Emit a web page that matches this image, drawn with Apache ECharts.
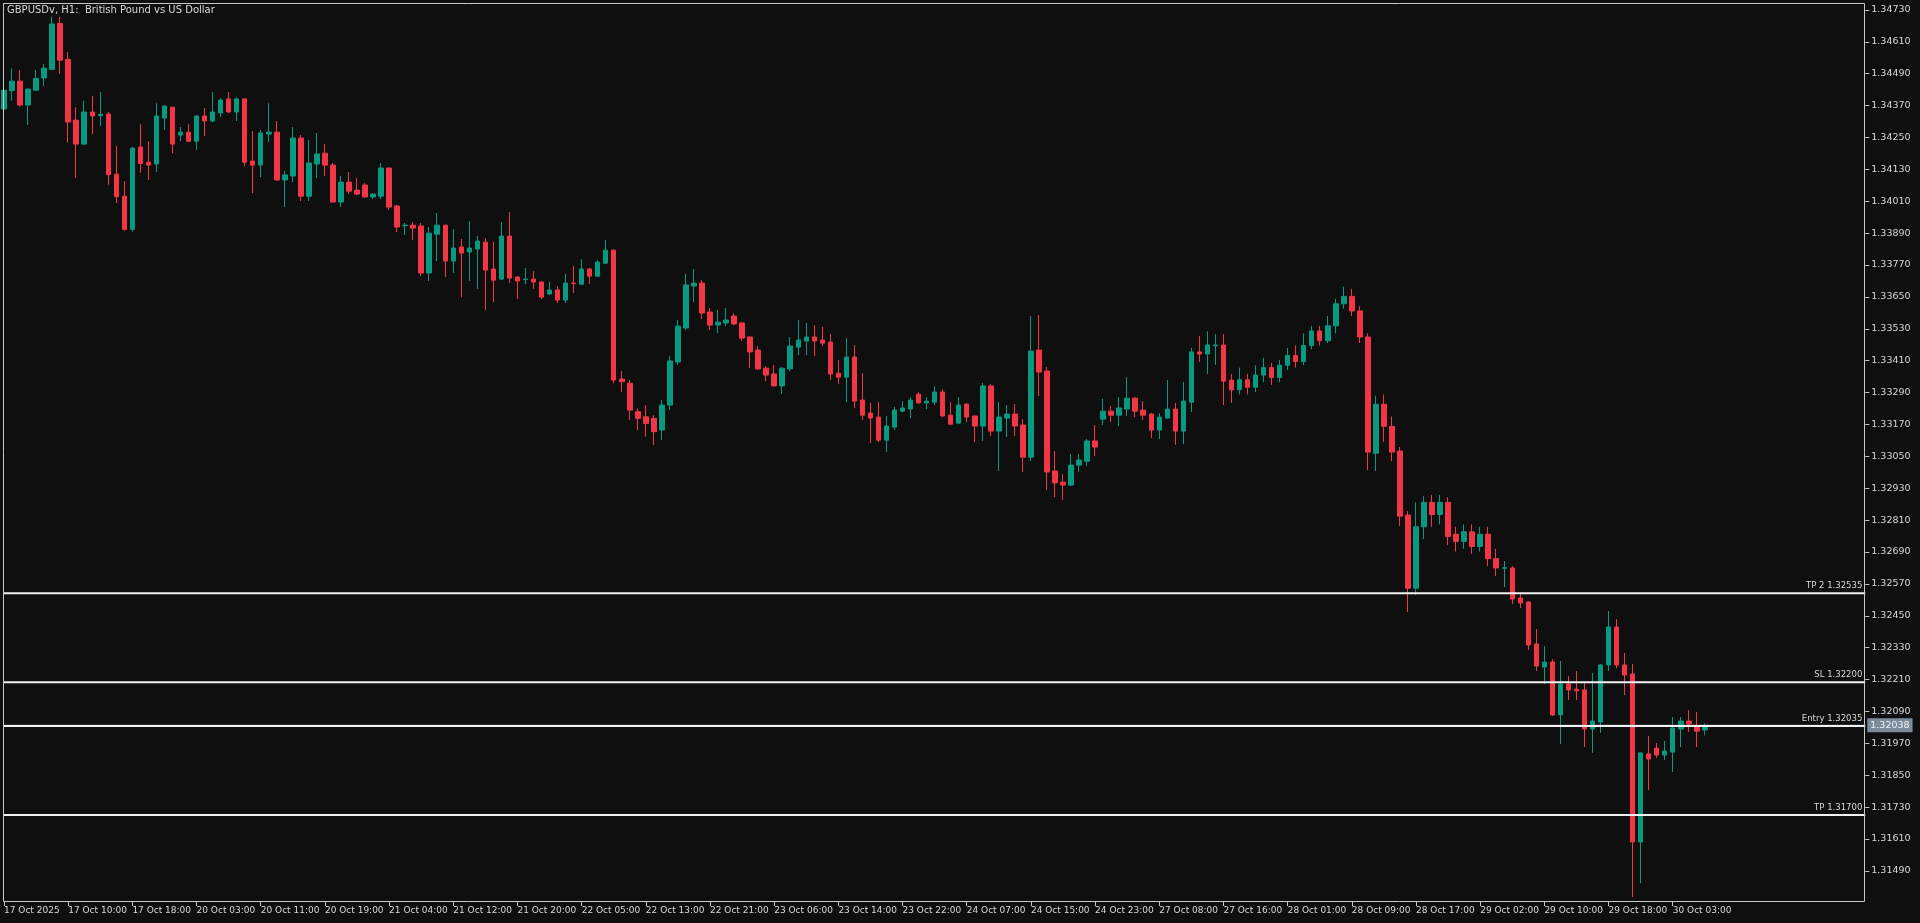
<!DOCTYPE html>
<html>
<head>
<meta charset="utf-8">
<title>GBPUSDv H1</title>
<script src="https://cdn.jsdelivr.net/npm/echarts@6/dist/echarts.min.js"></script>
<style>
  html, body { margin: 0; padding: 0; background: #0f0f0f; }
  #chart { width: 1920px; height: 923px; }
</style>
</head>
<body>
<div id="chart"></div>
<script>
// candles: [open, close, low, high], H1 bars from 17 Oct 2025
var ohlc = [
  [1.34357,1.34428,1.34353,1.34435],[1.34426,1.34462,1.34388,1.34510],[1.34462,1.34372,1.34366,1.34504],[1.34372,1.34432,1.34297,1.34435],
  [1.34428,1.34472,1.34425,1.34504],[1.34474,1.34511,1.34443,1.34526],[1.34506,1.34677,1.34504,1.34704],[1.34679,1.34541,1.34489,1.34704],
  [1.34544,1.34308,1.34230,1.34571],[1.34315,1.34225,1.34097,1.34364],[1.34225,1.34346,1.34221,1.34388],[1.34346,1.34331,1.34263,1.34406],
  [1.34332,1.34337,1.34293,1.34421],[1.34338,1.34110,1.34072,1.34346],[1.34112,1.34027,1.34003,1.34218],[1.34029,1.33904,1.33899,1.34086],
  [1.33904,1.34210,1.33895,1.34215],[1.34214,1.34152,1.34117,1.34300],[1.34157,1.34146,1.34090,1.34236],[1.34150,1.34331,1.34120,1.34379],
  [1.34323,1.34368,1.34278,1.34370],[1.34364,1.34225,1.34191,1.34366],[1.34259,1.34270,1.34236,1.34289],[1.34270,1.34236,1.34233,1.34300],
  [1.34236,1.34331,1.34203,1.34334],[1.34331,1.34312,1.34255,1.34361],[1.34312,1.34346,1.34308,1.34421],[1.34342,1.34391,1.34327,1.34398],
  [1.34395,1.34346,1.34342,1.34421],[1.34346,1.34395,1.34312,1.34401],[1.34395,1.34157,1.34142,1.34398],[1.34161,1.34146,1.34041,1.34274],
  [1.34146,1.34267,1.34101,1.34278],[1.34263,1.34270,1.34233,1.34379],[1.34270,1.34090,1.34086,1.34312],[1.34090,1.34109,1.33988,1.34124],
  [1.34105,1.34248,1.34082,1.34289],[1.34248,1.34029,1.34011,1.34259],[1.34029,1.34154,1.34011,1.34240],[1.34150,1.34188,1.34097,1.34267],
  [1.34191,1.34146,1.34105,1.34225],[1.34146,1.34007,1.34005,1.34154],[1.34007,1.34082,1.33988,1.34105],[1.34082,1.34048,1.34037,1.34120],
  [1.34052,1.34037,1.34033,1.34097],[1.34071,1.34026,1.34024,1.34078],[1.34026,1.34037,1.34018,1.34041],[1.34029,1.34135,1.34018,1.34154],
  [1.34135,1.33988,1.33977,1.34137],[1.33992,1.33913,1.33894,1.33996],[1.33918,1.33920,1.33883,1.33928],[1.33920,1.33909,1.33864,1.33932],
  [1.33917,1.33740,1.33728,1.33928],[1.33740,1.33890,1.33710,1.33913],[1.33886,1.33920,1.33785,1.33966],[1.33920,1.33785,1.33725,1.33922],
  [1.33785,1.33834,1.33740,1.33905],[1.33838,1.33815,1.33649,1.33868],[1.33819,1.33834,1.33710,1.33935],[1.33830,1.33860,1.33680,1.33879],
  [1.33856,1.33751,1.33601,1.33871],[1.33755,1.33713,1.33631,1.33856],[1.33717,1.33879,1.33713,1.33932],[1.33879,1.33721,1.33702,1.33969],
  [1.33725,1.33710,1.33642,1.33727],[1.33715,1.33717,1.33698,1.33759],[1.33717,1.33706,1.33680,1.33747],[1.33706,1.33649,1.33642,1.33710],
  [1.33661,1.33676,1.33657,1.33706],[1.33676,1.33638,1.33627,1.33691],[1.33638,1.33702,1.33627,1.33736],[1.33702,1.33700,1.33665,1.33766],
  [1.33698,1.33755,1.33696,1.33792],[1.33755,1.33728,1.33698,1.33759],[1.33728,1.33781,1.33726,1.33789],[1.33777,1.33826,1.33775,1.33864],
  [1.33826,1.33337,1.33325,1.33829],[1.33341,1.33331,1.33293,1.33371],[1.33325,1.33224,1.33187,1.33337],[1.33218,1.33193,1.33149,1.33230],
  [1.33199,1.33174,1.33124,1.33243],[1.33193,1.33143,1.33093,1.33205],[1.33149,1.33243,1.33111,1.33262],[1.33243,1.33409,1.33224,1.33427],
  [1.33405,1.33540,1.33394,1.33563],[1.33533,1.33695,1.33525,1.33736],[1.33691,1.33702,1.33631,1.33755],[1.33702,1.33589,1.33567,1.33713],
  [1.33593,1.33544,1.33525,1.33608],[1.33544,1.33555,1.33514,1.33601],[1.33552,1.33563,1.33540,1.33608],[1.33578,1.33548,1.33544,1.33589],
  [1.33552,1.33495,1.33484,1.33555],[1.33499,1.33443,1.33382,1.33501],[1.33450,1.33379,1.33375,1.33465],[1.33382,1.33356,1.33333,1.33390],
  [1.33360,1.33315,1.33313,1.33394],[1.33315,1.33382,1.33284,1.33386],[1.33379,1.33465,1.33371,1.33499],[1.33461,1.33488,1.33431,1.33563],
  [1.33484,1.33499,1.33431,1.33552],[1.33499,1.33484,1.33427,1.33544],[1.33488,1.33476,1.33465,1.33537],[1.33480,1.33360,1.33337,1.33510],
  [1.33363,1.33348,1.33322,1.33412],[1.33348,1.33424,1.33254,1.33495],[1.33424,1.33258,1.33232,1.33469],[1.33262,1.33205,1.33187,1.33363],
  [1.33213,1.33194,1.33100,1.33251],[1.33198,1.33111,1.33104,1.33254],[1.33111,1.33164,1.33066,1.33202],[1.33160,1.33224,1.33149,1.33236],
  [1.33220,1.33232,1.33217,1.33258],[1.33228,1.33262,1.33193,1.33273],[1.33284,1.33251,1.33249,1.33292],[1.33251,1.33258,1.33228,1.33273],
  [1.33254,1.33292,1.33243,1.33315],[1.33292,1.33202,1.33198,1.33303],[1.33205,1.33171,1.33168,1.33254],[1.33175,1.33243,1.33173,1.33273],
  [1.33247,1.33198,1.33179,1.33249],[1.33202,1.33164,1.33104,1.33204],[1.33164,1.33315,1.33108,1.33326],[1.33315,1.33145,1.33126,1.33322],
  [1.33145,1.33198,1.32995,1.33254],[1.33194,1.33209,1.33123,1.33243],[1.33209,1.33164,1.33126,1.33247],[1.33168,1.33047,1.32991,1.33190],
  [1.33047,1.33446,1.33032,1.33578],[1.33450,1.33367,1.33277,1.33582],[1.33371,1.32991,1.32923,1.33386],[1.32995,1.32950,1.32897,1.33070],
  [1.32953,1.32942,1.32886,1.32983],[1.32942,1.33017,1.32938,1.33059],[1.33017,1.33036,1.32991,1.33059],[1.33032,1.33108,1.33014,1.33115],
  [1.33108,1.33085,1.33051,1.33168],[1.33190,1.33220,1.33168,1.33266],[1.33220,1.33205,1.33179,1.33239],[1.33205,1.33232,1.33164,1.33273],
  [1.33228,1.33269,1.33202,1.33348],[1.33269,1.33220,1.33198,1.33273],[1.33224,1.33205,1.33187,1.33258],[1.33209,1.33149,1.33119,1.33213],
  [1.33149,1.33198,1.33115,1.33213],[1.33194,1.33228,1.33192,1.33337],[1.33228,1.33145,1.33093,1.33251],[1.33145,1.33258,1.33096,1.33330],
  [1.33254,1.33443,1.33217,1.33458],[1.33443,1.33435,1.33405,1.33503],[1.33435,1.33469,1.33360,1.33521],[1.33466,1.33469,1.33394,1.33510],
  [1.33469,1.33333,1.33243,1.33510],[1.33337,1.33300,1.33251,1.33360],[1.33301,1.33338,1.33283,1.33384],[1.33338,1.33310,1.33283,1.33361],
  [1.33310,1.33356,1.33292,1.33393],[1.33356,1.33384,1.33329,1.33421],[1.33384,1.33347,1.33319,1.33402],[1.33347,1.33393,1.33329,1.33412],
  [1.33393,1.33430,1.33375,1.33458],[1.33430,1.33407,1.33384,1.33467],[1.33407,1.33467,1.33393,1.33513],[1.33467,1.33522,1.33453,1.33541],
  [1.33522,1.33485,1.33467,1.33541],[1.33485,1.33541,1.33476,1.33578],[1.33541,1.33624,1.33513,1.33643],[1.33624,1.33652,1.33606,1.33689],
  [1.33652,1.33597,1.33578,1.33680],[1.33597,1.33499,1.33476,1.33615],[1.33499,1.33066,1.32998,1.33513],[1.33062,1.33246,1.32995,1.33278],
  [1.33246,1.33163,1.33104,1.33283],[1.33163,1.33066,1.33032,1.33200],[1.33070,1.32825,1.32788,1.33085],[1.32829,1.32554,1.32464,1.32844],
  [1.32554,1.32785,1.32528,1.32877],[1.32785,1.32877,1.32739,1.32900],[1.32877,1.32831,1.32785,1.32905],[1.32831,1.32877,1.32794,1.32905],
  [1.32877,1.32748,1.32716,1.32896],[1.32757,1.32730,1.32692,1.32785],[1.32730,1.32766,1.32702,1.32794],[1.32766,1.32711,1.32683,1.32794],
  [1.32711,1.32757,1.32692,1.32785],[1.32757,1.32665,1.32637,1.32785],[1.32665,1.32630,1.32600,1.32702],[1.32629,1.32631,1.32558,1.32656],
  [1.32630,1.32513,1.32494,1.32637],[1.32517,1.32498,1.32479,1.32532],[1.32502,1.32340,1.32321,1.32505],[1.32344,1.32261,1.32242,1.32400],
  [1.32257,1.32276,1.32193,1.32336],[1.32276,1.32077,1.32073,1.32287],[1.32077,1.32193,1.31967,1.32280],[1.32193,1.32171,1.32133,1.32223],
  [1.32174,1.32168,1.32133,1.32242],[1.32171,1.32024,1.31956,1.32197],[1.32024,1.32054,1.31934,1.32235],[1.32050,1.32265,1.32009,1.32268],
  [1.32265,1.32408,1.32242,1.32468],[1.32408,1.32265,1.32253,1.32438],[1.32265,1.32227,1.32152,1.32310],[1.32231,1.31599,1.31392,1.32268],
  [1.31599,1.31934,1.31444,1.31936],[1.31930,1.31911,1.31794,1.31998],[1.31952,1.31926,1.31915,1.31971],[1.31926,1.31941,1.31907,1.31979],
  [1.31937,1.32028,1.31862,1.32069],[1.32024,1.32054,1.31956,1.32069],[1.32054,1.32043,1.32013,1.32095],[1.32035,1.32016,1.31956,1.32088],
  [1.32020,1.32038,1.32000,1.32045]
];

// one label every 8 bars
var xTickLabels = ['17 Oct 2025','17 Oct 10:00','17 Oct 18:00','20 Oct 03:00','20 Oct 11:00','20 Oct 19:00',
  '21 Oct 04:00','21 Oct 12:00','21 Oct 20:00','22 Oct 05:00','22 Oct 13:00','22 Oct 21:00','23 Oct 06:00',
  '23 Oct 14:00','23 Oct 22:00','24 Oct 07:00','24 Oct 15:00','24 Oct 23:00','27 Oct 08:00','27 Oct 16:00',
  '28 Oct 01:00','28 Oct 09:00','28 Oct 17:00','29 Oct 02:00','29 Oct 10:00','29 Oct 18:00','30 Oct 03:00'];

var yTicks = [1.31490,1.31610,1.31730,1.31850,1.31970,1.32090,1.32210,1.32330,1.32450,1.32570,1.32690,
  1.32810,1.32930,1.33050,1.33170,1.33290,1.33410,1.33530,1.33650,1.33770,1.33890,1.34010,1.34130,
  1.34250,1.34370,1.34490,1.34610,1.34730];

var levelNames = ['TP 2', 'SL', 'Entry', 'TP'];
var levelValues = [1.32535, 1.32200, 1.32035, 1.31700];
var bidPrice = 1.32038;

var slots = 233;
var categories = [];
for (var i = 0; i < slots; i++) categories.push(String(i));

var FONT = 'DejaVu Sans';
var TXT = '#d8d8d8';

// a horizontal level drawn as a 2-point line across the whole plot
function levelSeries(value, color, width, label, z) {
  return {
    type: 'line',
    data: [[0, value], [slots - 1, value]],
    symbol: 'none',
    silent: true,
    z: z,
    lineStyle: { color: color, width: width },
    endLabel: label
  };
}

var levelSeriesList = [
  levelSeries(bidPrice, '#8796a6', 1, {
    show: true, distance: 2, color: '#eef2f6', backgroundColor: '#7c8b9b', padding: [2, 3],
    fontSize: 9.5, fontFamily: FONT, formatter: bidPrice.toFixed(5)
  }, 3)
];
levelValues.forEach(function (v, i) {
  levelSeriesList.push(levelSeries(v, '#f2f2f2', 2, {
    show: true, distance: 0, align: 'right', verticalAlign: 'bottom', offset: [-3, -3],
    color: TXT, fontSize: 8.5, fontFamily: FONT, formatter: levelNames[i] + ' ' + v.toFixed(5)
  }, 4));
});

function tickAt(idx) { return idx % 8 === 0 && idx <= 208; }

var chart = echarts.init(document.getElementById('chart'));
chart.setOption({
  backgroundColor: '#0f0f0f',
  animation: false,
  graphic: [
    { type: 'rect', z: 100, silent: true, shape: { x: 3.5, y: 3.5, width: 1861, height: 898 },
      style: { fill: 'none', stroke: '#c8c8c8', lineWidth: 1 } },
    { type: 'text', z: 100, left: 7, top: 5,
      style: { text: 'GBPUSDv, H1:  British Pound vs US Dollar', fill: TXT, font: '10px "DejaVu Sans"' } }
  ],
  grid: { left: -1.7, top: 3, width: 1871, bottom: 21 },
  xAxis: {
    type: 'category',
    data: categories,
    boundaryGap: true,
    axisLine: { show: false },
    axisTick: { show: true, alignWithLabel: true, length: 4, lineStyle: { color: '#c8c8c8' }, interval: tickAt },
    axisLabel: {
      interval: tickAt,
      showMinLabel: true,
      showMaxLabel: true,
      hideOverlap: false,
      formatter: function (v, idx) { return xTickLabels[idx / 8] || ''; },
      align: 'left', margin: 4, color: TXT, fontSize: 9, fontFamily: FONT
    },
    splitLine: { show: false }
  },
  yAxis: {
    type: 'value',
    position: 'right',
    offset: -4,
    min: 1.31373,
    max: 1.34756,
    axisLine: { show: false },
    axisTick: { show: true, length: 4, customValues: yTicks, lineStyle: { color: '#c8c8c8' } },
    axisLabel: { customValues: yTicks, margin: 6, color: TXT, fontSize: 9.5, fontFamily: FONT,
      formatter: function (v) { return v.toFixed(5); } },
    splitLine: { show: false }
  },
  series: [{
    type: 'candlestick',
    data: ohlc,
    barWidth: 5,
    z: 2,
    itemStyle: {
      color: '#089981', color0: '#f23645',
      borderColor: '#089981', borderColor0: '#f23645', borderWidth: 1
    }
  }].concat(levelSeriesList)
});
</script>
</body>
</html>
